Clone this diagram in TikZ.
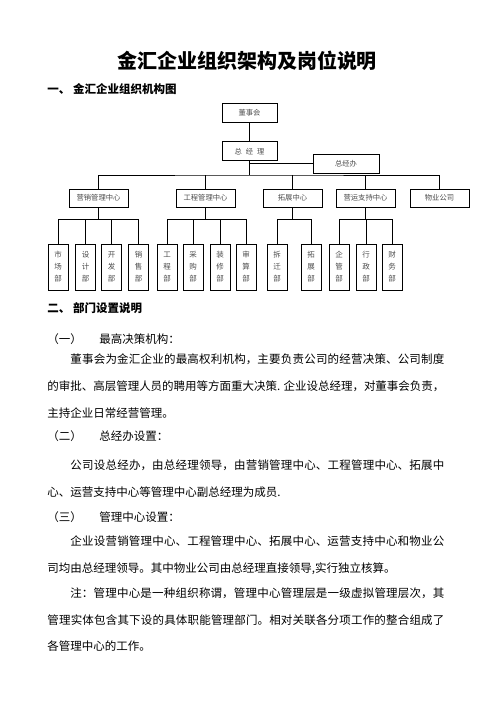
\documentclass[tikz,border=0pt]{standalone}
\usepackage{fontspec}
\newfontfamily\cjk{Noto Sans CJK SC}
\usetikzlibrary{positioning}
\XeTeXlinebreaklocale "zh"
\XeTeXlinebreakskip=0pt plus 2pt minus 0.15pt

\tikzset{
  box/.style={draw, line width=0.8pt, inner sep=0pt, minimum width=55pt,
    minimum height=19pt, text=black!70, font=\cjk\fontsize{7.3}{9}\selectfont},
  centre/.style={box, minimum width=59pt, minimum height=18pt},
  dept/.style={box, minimum width=20pt, minimum height=46pt, align=center,
    font=\cjk\fontsize{7.5}{12}\selectfont},
  head/.style={anchor=west, inner sep=0pt, font=\cjk\bfseries\fontsize{11.5}{14}\selectfont},
  item/.style={anchor=west, inner sep=0pt, font=\cjk\fontsize{11.5}{14}\selectfont},
  para/.style={anchor=north west, inner sep=0pt, text width=397pt, align=justify,
    font=\cjk\fontsize{11.5}{26.7}\selectfont},
}

\begin{document}
\begin{tikzpicture}[x=1pt, y=-1pt, line width=0.8pt]
	\useasboundingbox (0,0) rectangle (496,702);
	% headings
	\node[inner sep=0pt, font=\cjk\bfseries\fontsize{20}{24}\selectfont] (title) at (247,61) {金汇企业组织架构及岗位说明};
	\node[head] (h1) at (47,89) {一、 金汇企业组织机构图};

	% top of the chart
	\node[box] (board) at (249.5,112.5) {董事会};
	\node[box, below=19pt of board] (gm) {总\hspace{4pt}经\hspace{4pt}理};
	\node[box, minimum width=66pt] (office) at (346,163.5) {总经办};
	\coordinate (bus) at (249.5,175);

	% centres
	\node[centre] (sales) at (98.5,198) {营销管理中心};
	\node[centre] (eng) at (205.5,198) {工程管理中心};
	\node[centre] (expand) at (292.5,198) {拓展中心};
	\node[centre] (ops) at (365.5,198) {营运支持中心};
	\node[centre] (estate) at (439.5,198) {物业公司};

	% departments
	\node[dept] (market) at (58,267) {市\\场\\部};
	\node[dept] (design) at (85.5,267) {设\\计\\部};
	\node[dept] (develop) at (111.5,267) {开\\发\\部};
	\node[dept] (sell) at (138.5,267) {销\\售\\部};
	\node[dept] (project) at (167,267) {工\\程\\部};
	\node[dept] (purchase) at (193,267) {采\\购\\部};
	\node[dept] (decor) at (220,267) {装\\修\\部};
	\node[dept] (audit) at (246,267) {审\\算\\部};
	\node[dept] (demolish) at (277,267) {拆\\迁\\部};
	\node[dept] (expdept) at (311,267) {拓\\展\\部};
	\node[dept] (manage) at (339,267) {企\\管\\部};
	\node[dept] (admin) at (366,267) {行\\政\\部};
	\node[dept] (finance) at (392,267) {财\\务\\部};

	\draw (board) -- (gm);
	\draw (gm) -- (bus);
	\draw (gm.south |- office) -- (office);
	\draw (sales) |- (bus) -| (estate);
	\foreach \c in {eng, expand, ops}
		\draw (\c) -- (\c |- bus);

	\foreach \d in {market, design, develop, sell}
		\draw (sales.south) -- ++(0,12) -| (\d.north);
	\foreach \d in {project, purchase, decor, audit}
		\draw (eng.south) -- ++(0,12) -| (\d.north);
	\foreach \d in {demolish, expdept}
		\draw (expand.south) -- ++(0,12) -| (\d.north);
	\foreach \d in {manage, admin, finance}
		\draw (ops.south) -- ++(0,12) -| (\d.north);

	% text part
	\node[head] (h2) at (47,308) {二、 部门设置说明};
	\node[item] (s1) at (47,339) {（一）\hspace{17.5pt}最高决策机构：};
	\node[para] (p1) at (47,353.8) {\hspace*{23pt}董事会为金汇企业的最高权利机构，主要负责公司的经营决策、公司制度\linebreak
		的审批、高层管理人员的聘用等方面重大决策. 企业设总经理，对董事会负责，\linebreak
		主持企业日常经营管理。};
	\node[item] (s2) at (47,436) {（二）\hspace{17.5pt}总经办设置：};
	\node[para] (p2) at (47,459.3) {\hspace*{23pt}公司设总经办，由总经理领导，由营销管理中心、工程管理中心、拓展中\linebreak
		心、运营支持中心等管理中心副总经理为成员.};
	\node[item] (s3) at (47,517) {（三）\hspace{17.5pt}管理中心设置：};
	\node[para] (p3) at (47,535.3) {\hspace*{23pt}企业设营销管理中心、工程管理中心、拓展中心、运营支持中心和物业公\linebreak
		司均由总经理领导。其中物业公司由总经理直接领导,实行独立核算。};
	\node[para] (p4) at (47,587.3) {\hspace*{23pt}注：管理中心是一种组织称谓，管理中心管理层是一级虚拟管理层次，其\linebreak
		管理实体包含其下设的具体职能管理部门。相对关联各分项工作的整合组成了\linebreak
		各管理中心的工作。};
\end{tikzpicture}
\end{document}
